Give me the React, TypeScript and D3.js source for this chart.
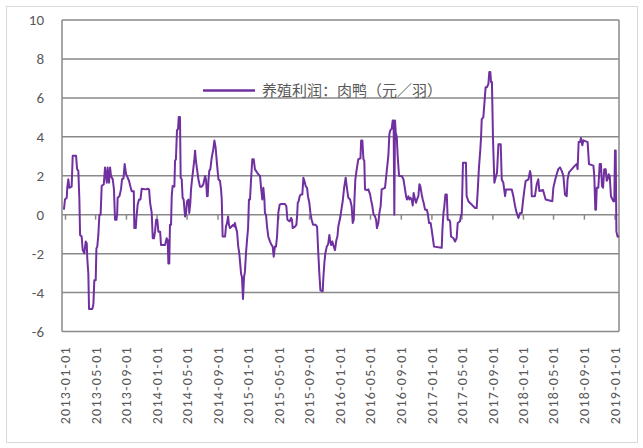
import * as d3 from "d3";

// weekly profit series, x given as weeks after 2012-12-18
const weekNo = [
  1.1, 1.7, 2.7, 3.0, 3.6, 4.2, 5.5, 6.1, 8.0, 8.6, 9.3, 9.9, 10.3, 11.2, 11.8, 12.7, 13.5, 14.1, 14.4, 15.0,
  15.4, 17.3, 17.9, 18.4, 19.2, 19.6, 20.1, 20.7, 21.3, 22.0, 22.6, 23.8, 24.5, 25.5, 26.0, 26.8, 27.4, 27.9, 28.9, 29.6,
  30.2, 31.0, 31.4, 31.7, 32.7, 33.6, 34.2, 35.0, 35.7, 36.5, 37.4, 38.2, 39.0, 39.7, 40.9, 41.2, 42.0, 42.4, 43.1, 43.9,
  44.7, 45.4, 47.7, 48.8, 49.6, 50.2, 51.1, 51.7, 52.4, 53.0, 53.6, 54.3, 54.9, 55.9, 56.4,
  58.7, 59.6, 60.2, 60.6, 61.1, 61.5, 62.1, 62.5, 63.0, 64.0, 64.4, 64.9, 65.5, 66.1, 66.5, 67.2, 67.6, 68.2, 68.7, 69.3,
  70.1, 70.6, 71.2, 72.0, 72.5, 73.1, 73.5, 74.1, 74.8, 75.4, 75.8, 76.3, 76.9, 77.7, 78.6, 79.6, 80.5, 81.5, 82.0, 82.6,
  83.0, 83.4, 83.9, 84.5, 85.3, 86.2, 86.8, 87.5, 88.3, 89.1, 90.0, 90.6, 91.0, 91.5, 92.9, 93.4, 94.0, 94.6, 95.1, 95.7,
  96.6, 97.6, 98.2, 98.5, 99.1, 99.7, 100.4, 101.0, 101.6, 102.0, 102.5, 103.1, 103.7, 104.2, 104.8, 105.4, 106.0, 106.5, 107.1, 107.7,
  108.4, 109.2, 109.9,
  110.5, 111.8, 112.8, 113.4, 114.1, 114.7, 115.3, 115.6, 116.2, 116.8, 117.5, 118.5, 119.4, 120.0, 120.6, 121.3, 121.9, 122.5, 123.2, 124.0,
  124.8, 127.0, 127.8, 128.4, 129.7, 130.5, 131.0, 131.4, 132.7, 133.5, 133.9, 134.3, 134.8, 135.4, 136.0, 136.9, 137.5, 138.1, 138.8, 139.6,
  140.1, 140.9, 141.5, 142.2, 143.0, 144.5, 145.3, 146.0, 146.6, 147.2, 148.5, 148.9, 149.5, 150.0, 150.8, 151.4, 151.7, 152.3, 152.7, 153.3,
  154.0, 154.8, 155.5, 156.3, 156.9, 157.4, 158.0, 158.6, 159.3, 159.9, 160.7, 161.6, 162.4, 163.1, 164.1, 165.0, 165.6, 166.2, 166.6, 167.1,
  167.9, 168.8, 170.0, 170.4, 171.1, 171.7,
  172.2, 172.6, 173.6, 174.5, 175.5, 176.0, 176.8, 177.5, 178.3, 178.9, 179.4, 180.2, 180.8, 181.5, 182.1, 184.0, 185.0, 185.9, 186.5, 187.0,
  187.8, 188.4, 188.9, 189.3, 189.7, 190.1, 190.7, 191.2, 192.0, 193.5, 194.5, 195.4, 196.0, 196.5, 197.3, 197.9, 198.4, 199.2, 199.8, 200.3,
  201.1, 201.7, 202.2, 203.0, 203.6, 204.1, 204.9, 205.5, 206.0, 206.8, 207.8, 208.3, 209.1, 210.0, 210.6, 211.4, 211.9, 216.3, 216.7, 217.3,
  217.8, 218.4, 219.2, 219.7, 220.5, 221.1, 221.6, 223.0, 223.9,
  224.8, 225.4, 226.7, 227.3, 227.7, 228.4, 230.1, 230.5, 231.5, 232.4, 233.4, 234.3, 235.3, 236.2, 236.8, 237.5, 238.3, 238.7, 239.1, 240.0,
  240.6, 241.3, 242.1, 242.9, 243.4, 244.0, 244.4, 244.9, 245.5, 245.9, 246.3, 247.0, 247.8, 248.6, 249.9, 250.5, 251.4, 252.4, 252.9, 256.2,
  257.1, 258.1, 259.0, 260.0, 260.9, 261.9, 262.6, 263.4, 264.1, 265.7, 266.6, 267.2, 267.6,
  269.4, 270.4, 271.3, 271.9, 274.0, 274.7, 275.5, 279.3, 279.9, 280.8, 281.8, 282.7, 283.7, 284.6, 285.6, 286.5, 287.5, 288.0, 288.8, 291.3,
  292.2, 293.2, 293.7, 294.3, 295.1, 295.6, 296.4, 297.0, 299.4, 300.2, 302.7, 303.2, 303.8, 304.2, 304.6, 305.5, 306.3, 307.0, 307.6, 308.2,
  308.9, 309.7, 310.3, 310.8, 311.4, 312.0, 312.7, 314.1, 314.6, 315.0, 315.4, 315.8, 316.5, 317.3,
];

const profit = [
  0.26, 0.78, 0.87, 1.38, 1.82, 1.38, 1.44, 3.03, 3.03, 2.34, 2.25, 0.78, -1.04, -1.12, -1.82, -1.99, -1.38, -1.47, -2.25, -3.03,
  -4.84, -4.84, -4.58, -3.37, -3.37, -1.73, -1.64, -1.04, 0, 0, 1.47, 1.56, 2.42, 1.64, 2.42, 1.64, 2.42, 1.99, 1.82, 1.3,
  -0.26, -0.26, 0, 0.87, 0.95, 1.3, 1.82, 1.85, 2.6, 2.08, 1.9, 1.73, 1.44, 1.21, 1.21, -0.69, -0.69, -0.17, 0.52, 0.78,
  0.78, 1.33, 1.3, 1.33, 1.3, 0.61, 0.09, -1.21, -1.21, -0.87, -0.26, -0.26, -0.87, -0.87, -1.56,
  -1.56, -1.21, -1.3, -2.51, -2.51, -0.52, -0.52, 0.95, 1.47, 1.44, 2.77, 2.85, 4.33, 4.41, 5.02, 5.02, 1.9, 1.82, 0.87, 0.78,
  -0.09, 0, 0.69, 0.78, 0.09, 0.61, 1.3, 1.82, 2.37, 2.85, 3.29, 2.77, 2.34, 1.82, 1.44, 1.44, 1.56, 1.99, 1.82, 0.95,
  0.95, 1.73, 2.25, 2.34, 2.94, 3.37, 3.81, 3.46, 2.6, 1.82, 1.73, 1.3, 0.78, -1.12, -1.12, -0.61, -0.43, -0.09, -0.52, -0.69,
  -0.61, -0.52, -0.61, -0.43, -0.69, -0.87, -1.64, -1.99, -2.6, -3.03, -3.2, -4.33, -3.2, -2.94, -1.99, -1.3, -0.69, 0.78, 0.78, 1.82,
  2.85, 2.85, 2.34,
  2.25, 2.08, 1.99, 1.38, 0.78, 1.38, 0.78, 0.09, 0, -0.61, -1.12, -1.38, -1.56, -1.64, -2.16, -1.64, -1.64, -1.12, 0.09, 0.52,
  0.55, 0.55, 0.43, -0.26, -0.35, -0.17, -0.26, -0.69, -0.61, -0.52, -0.09, 0.61, 0.69, 0.95, 1.04, 1.04, 1.9, 1.73, 1.47, 1.38,
  0.95, 0.61, 0.09, -0.26, -0.52, -0.52, -0.61, -1.99, -3.03, -3.89, -3.93, -3.2, -2.42, -1.99, -1.64, -1.56, -1.47, -1.04, -1.3, -1.56,
  -1.38, -1.64, -1.82, -1.3, -1.12, -0.61, -0.35, -0.09, 0.35, 0.69, 1.38, 1.9, 1.3, 0.87, 0.78, 0.43, -0.43, -0.26, 0.78, 1.82,
  2.34, 2.85, 2.89, 3.81, 3.81, 2.85,
  2.77, 1.3, 1.26, 1.3, 1.04, 0.78, 0.43, 0, -0.09, -0.26, -0.69, -0.43, 0.09, 0.43, 1.3, 1.38, 2.25, 3.03, 4.15, 4.33,
  4.41, 4.84, 4.84, 0, 4.84, 4.24, 3.98, 3.03, 1.99, 1.99, 1.82, 1.3, 0.95, 0.78, 0.95, 0.78, 0.87, 0.78, 0.47, 1.12,
  0.78, 0.61, 0.78, 0.95, 1.56, 1.47, 1.04, 0.78, 0.61, 0.26, 0.26, 0.09, -0.43, -0.43, -0.78, -1.3, -1.64, -1.7, -0.78, 0.09,
  0.43, 1.04, 1.04, -0.26, -0.26, -0.35, -1.12, -1.21, -1.38,
  -1.21, -0.43, -0.34, 0, 0, 2.67, 2.67, 0.95, 0.69, 0.6, 0.52, 0.43, 0.34, 0.34, 1.21, 2.41, 3.36, 3.97, 4.91, 5.0,
  5.69, 6.55, 6.55, 6.72, 7.33, 7.33, 6.81, 6.81, 3.97, 2.76, 1.64, 1.9, 2.16, 3.62, 3.62, 1.81, 1.64, 0.95, 1.29, 1.29,
  0.95, 0.43, 0.09, -0.17, 0.09, 0.09, 0.69, 1.29, 1.72, 1.81, 2.24, 1.98, 0.95,
  0.95, 1.56, 1.82, 1.22, 1.27, 1.04, 0.78, 0.69, 1.39, 1.74, 2.08, 2.34, 2.43, 2.26, 2.0, 1.04, 0.95, 1.82, 2.17, 2.43,
  2.52, 2.6, 2.34, 3.73, 3.73, 3.94, 3.56, 3.82, 3.73, 2.6, 2.52, 2.0, 0.26, 0.26, 1.39, 1.39, 2.6, 2.6, 1.48, 1.39,
  2.34, 2.34, 1.74, 1.82, 2.08, 2.0, 0.95, 0.69, 0.69, 3.3, 3.3, -0.87, -1.13, -1.1,
];

const tickLabels = [
  "2013-01-01", "2013-05-01", "2013-09-01", "2014-01-01", "2014-05-01", "2014-09-01", "2015-01-01",
  "2015-05-01", "2015-09-01", "2016-01-01", "2016-05-01", "2016-09-01", "2017-01-01", "2017-05-01",
  "2017-09-01", "2018-01-01", "2018-05-01", "2018-09-01", "2019-01-01",
];
const yTicks = [10, 8, 6, 4, 2, 0, -2, -4, -6];
const seriesName = "养殖利润：肉鸭（元／羽）";

const width = 643;
const height = 448;
const plot = { left: 62, right: 619, top: 20, bottom: 331.5 };
const DAY = 864e5;
const t0 = Date.UTC(2012, 11, 18);
const t1 = Date.UTC(2019, 0, 17);

const purple = "#7030a0";
const grid = "#898989";
const textColor = "#595959";
const font = "Carlito, Calibri, 'Open Sans', sans-serif";

const App = () => {
  const x = d3.scaleUtc().domain([new Date(t0), new Date(t1)]).range([plot.left, plot.right]);
  const y = d3.scaleLinear().domain([-6, 10]).range([plot.bottom, plot.top]);

  const points = weekNo.map((w, i) => ({ d: new Date(t0 + w * 7 * DAY), v: profit[i] }));
  const line = d3
    .line<{ d: Date; v: number }>()
    .x((p) => x(p.d))
    .y((p) => y(p.v));

  const tickDates = tickLabels.map((s) => new Date(s + "T00:00:00Z"));

  return (
    <svg width={width} height={height} style={{ position: "absolute", left: 0, top: 0, background: "#fff" }}>
      <rect x={6.5} y={6.5} width={631} height={436} fill="#fff" stroke="#d9d9d9" />

      {yTicks.map((t) => (
        <g key={t}>
          <line x1={plot.left} x2={plot.right} y1={y(t)} y2={y(t)} stroke={grid} strokeWidth={1.5} />
          <text
            x={44}
            y={y(t)}
            dy="0.35em"
            textAnchor="end"
            fontFamily={font}
            fontSize={15}
            fill={textColor}
          >
            {t}
          </text>
        </g>
      ))}
      <line x1={plot.left} x2={plot.left} y1={plot.top} y2={plot.bottom} stroke={grid} strokeWidth={1.5} />
      <line x1={plot.right} x2={plot.right} y1={plot.top} y2={plot.bottom} stroke={grid} strokeWidth={1.5} />

      {tickDates.map((d, i) => (
        <g key={tickLabels[i]}>
          <line x1={x(d)} x2={x(d)} y1={y(0)} y2={y(0) + 5} stroke={grid} strokeWidth={1.5} />
          <text
            transform={`translate(${x(d)},346) rotate(-90)`}
            dy="0.35em"
            textAnchor="end"
            fontFamily={font}
            fontSize={14}
            letterSpacing={1.3}
            fill={textColor}
          >
            {tickLabels[i]}
          </text>
        </g>
      ))}

      <path d={line(points) ?? ""} fill="none" stroke={purple} strokeWidth={2} strokeLinejoin="round" />

      <line x1={203} x2={255} y1={90.5} y2={90.5} stroke={purple} strokeWidth={2.5} />
      <text x={262} y={90.5} dy="0.35em" fontFamily="'Noto Sans CJK SC', sans-serif" fontSize={15} fill={textColor}>
        {seriesName}
      </text>
    </svg>
  );
};

export default App;
